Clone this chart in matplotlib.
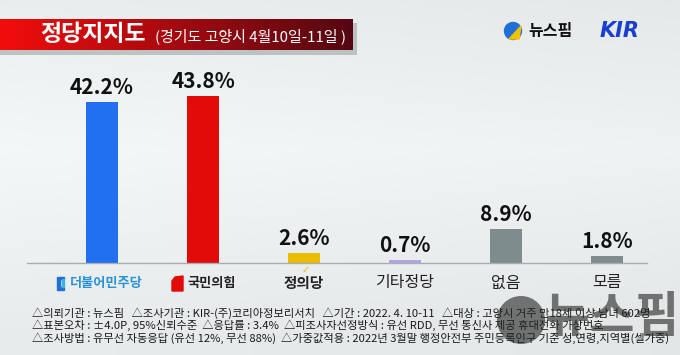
import matplotlib
matplotlib.use("Agg")
import matplotlib.pyplot as plt
import numpy as np
from matplotlib.patches import Rectangle, Polygon, Circle

plt.rcParams['font.family'] = ['Noto Sans CJK KR', 'DejaVu Sans']

# ---- data ----
categories = ["더불어민주당", "국민의힘", "정의당", "기타정당", "없음", "모름"]
values = [42.2, 43.8, 2.6, 0.7, 8.9, 1.8]
bar_colors = ["#2070f0", "#e30a0a", "#e9bd00", "#b3a3e6", "#7f8c8d", "#7f8c8d"]
title_main = "정당지지도"
title_sub = "(경기도 고양시 4월10일-11일 )"
footer_lines = [
    "△의뢰기관 : 뉴스핌   △조사기관 : KIR-(주)코리아정보리서치   △기간 : 2022. 4. 10-11   △대상 : 고양시 거주 만18세 이상 남녀 602명",
    "△표본오차 : ±4.0P, 95%신뢰수준  △응답률 : 3.4%  △피조사자선정방식 : 유선 RDD, 무선 통신사 제공 휴대전화 가상번호",
    "△조사방법 : 유무선 자동응답 (유선 12%, 무선 88%)  △가중값적용 : 2022년 3월말 행정안전부 주민등록인구 기준 성,연령,지역별(셀가중)",
]

W, H = 680, 355
fig = plt.figure(figsize=(W / 100, H / 100), dpi=100)

# background axes in pixel coordinates
bg = fig.add_axes([0, 0, 1, 1])
bg.set_xlim(0, W)
bg.set_ylim(H, 0)
bg.axis('off')
yy, xx = np.mgrid[0:H, 0:W]
grad = 0.905 + 0.045 * np.clip(1 - np.abs(yy - 150) / 180.0, 0, 1) + 0.02 * (1 - xx / W)
grad = np.clip(grad, 0, 1)
img = np.dstack([grad * 0.985, grad, grad * 1.0])
bg.imshow(img, extent=[0, W, H, 0], aspect='auto', zorder=0)

# title banner with shadow
bg.add_patch(Rectangle((0, 23), 357, 32, color='#8f9598', alpha=0.5, zorder=1, lw=0))
ban = np.linspace(0, 1, 256)
r = 0.95 * (1 - ban) + 0.33 * ban
g = 0.05 * (1 - ban) + 0.03 * ban
b = 0.05 * (1 - ban) + 0.07 * ban
banner = np.dstack([r, g, b])[None, :, :].repeat(2, axis=0).reshape(2, 256, 3)
bg.imshow(banner, extent=[0, 353, 50, 19], aspect='auto', zorder=2)
bg.text(40, 34.5, title_main, color='white', fontsize=16.5, fontweight='bold', va='center', ha='left', zorder=3)
bg.text(155, 36.5, title_sub, color='white', fontsize=10.8, va='center', ha='left', zorder=3)

# logos
bg.add_patch(Circle((513, 31), 8.5, color='#1f6fd6', zorder=3))
bg.add_patch(Polygon([[509, 39], [521, 26], [519, 39]], closed=True, color='#f2c200', zorder=4))
bg.text(528, 31, "뉴스핌", fontsize=11.5, fontweight='bold', color='#111111', va='center', ha='left', zorder=3)
bg.text(600, 31, "KIR", fontsize=15, fontweight='bold', fontstyle='italic', color='#1a3fd0',
        va='center', ha='left', zorder=3, family='DejaVu Sans')

# data axes
base_y = 263
px_per_unit = 167 / 43.8
ymax = 50
ax_h = ymax * px_per_unit
x_left, x_right = 27, 647
c0, step = 102, 101
ax = fig.add_axes([x_left / W, (H - base_y) / H, (x_right - x_left) / W, ax_h / H])
ax.set_xlim((x_left - c0) / step, (x_right - c0) / step)
ax.set_ylim(0, ymax)
ax.patch.set_alpha(0)
for s in ['top', 'right', 'left']:
    ax.spines[s].set_visible(False)
ax.spines['bottom'].set_color('#a9adb0')
ax.spines['bottom'].set_linewidth(1.0)
ax.set_xticks([])
ax.set_yticks([])

xs = np.arange(len(categories))
ax.bar(xs, values, width=32 / step, color=bar_colors, zorder=2)
for x, v in zip(xs, values):
    ax.annotate(f"{v}%", xy=(x, v), xytext=(0, 3), textcoords='offset points',
                ha='center', va='bottom', fontsize=15, fontweight='bold', color='#111111')

# category labels
lab_off = -14.4
for i, cat in enumerate(categories):
    if i == 0:
        ax.annotate(cat, xy=(i, 0), xytext=(3, lab_off), textcoords='offset points', ha='center',
                    va='center', fontsize=9.5, fontweight='bold', color='#2a93d5', annotation_clip=False)
    elif i == 1:
        ax.annotate(cat, xy=(i, 0), xytext=(6, lab_off), textcoords='offset points', ha='center',
                    va='center', fontsize=9.5, fontweight='bold', color='#222222', annotation_clip=False)
    elif i == 2:
        ax.annotate(cat, xy=(i, 0), xytext=(0, lab_off), textcoords='offset points', ha='center',
                    va='center', fontsize=10.5, fontweight='bold', color='#222222', annotation_clip=False)
        ax.annotate("✓", xy=(i, 0), xytext=(1, lab_off + 9), textcoords='offset points', ha='center',
                    va='center', fontsize=7, color='#e9bd00', annotation_clip=False, family='DejaVu Sans')
    else:
        ax.annotate(cat, xy=(i, 0), xytext=(0, lab_off), textcoords='offset points', ha='center',
                    va='center', fontsize=11.5, color='#222222', annotation_clip=False)

# party icons (pixel coords)
bg.add_patch(Polygon([[57, 277], [64, 277], [64, 279], [60, 279], [60, 287], [64, 287], [64, 290], [57, 290]],
                     closed=True, color='#1f6fd6', zorder=3))
bg.add_patch(Rectangle((62, 279), 2, 8, color='#39b5e0', zorder=3))
bg.add_patch(Polygon([[175, 277], [183, 276], [183, 291], [172, 291], [172, 281]], closed=True,
                     color='#e30a0a', zorder=3))

# footer
for k, line in enumerate(footer_lines):
    bg.text(32, 313 + 12.5 * k, line, fontsize=8.1, color='#1a1a1a', va='center', ha='left', zorder=3)

# watermark
bg.add_patch(Circle((521, 320), 24, color='#222222', alpha=0.6, zorder=5, lw=0))
bg.text(545, 318, "뉴스핌", fontsize=35, fontweight='bold', color='#222222', alpha=0.6,
        va='center', ha='left', zorder=5)

fig.savefig("out.png", dpi=100)
